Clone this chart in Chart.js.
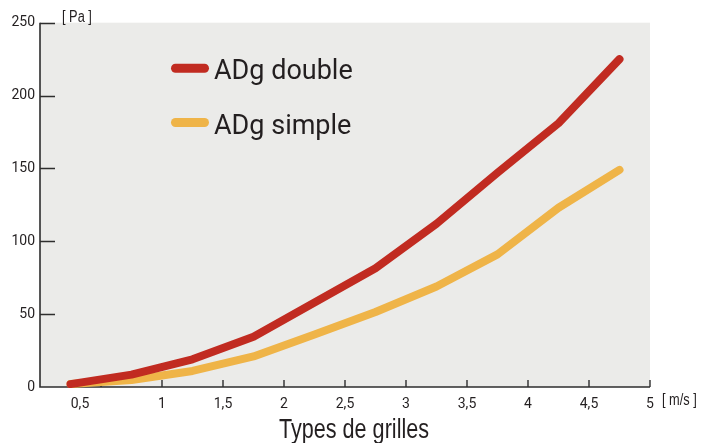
<!DOCTYPE html>
<html>
<head>
<meta charset="utf-8">
<script src="https://cdn.jsdelivr.net/npm/chart.js@4.4.1/dist/chart.umd.min.js"></script>
<style>
  html, body { margin: 0; padding: 0; background: #ffffff; }
  canvas { display: block; }
</style>
</head>
<body>
<canvas id="c" width="701" height="443"></canvas>
<script>
// Air speed through the grille [m/s]
const speeds = [0.25, 0.75, 1.25, 1.75, 2.25, 2.75, 3.25, 3.75, 4.25, 4.75];
// Pressure drop [Pa]
const adgDouble = [2, 8.5, 19, 34.5, 58, 81.5, 112, 147, 181, 225];
const adgSimple = [2, 4.8, 11, 21, 36, 51.5, 69, 91, 123, 149];
const seriesLabels = ['ADg double', 'ADg simple'];
const seriesColors = ['#c12b21', '#efb448'];
const xTicks = [0.5, 1, 1.5, 2, 2.5, 3, 3.5, 4, 4.5, 5];
const yTicks = [0, 50, 100, 150, 200, 250];
const xUnit = '[ m/s ]';
const yUnit = '[ Pa ]';
const xTitle = 'Types de grilles';

const AXIS = '#2e2e2e';
const TEXT = '#231f20';
const tickFont = '14px Roboto, "Open Sans", sans-serif';
const narrowFont = '"Liberation Sans", Arial, sans-serif';

// condensed text: squeeze the natural width horizontally
function narrowText(ctx, text, x, y, squeeze) {
  const w = ctx.measureText(text).width;
  ctx.fillText(text, x, y, w * squeeze);
}

const toPoints = vals => vals.map((v, i) => ({ x: speeds[i], y: v }));

const frame = {
  id: 'frame',
  beforeDatasetsDraw(chart) {
    const { ctx, chartArea: a, scales: { x, y } } = chart;
    ctx.save();
    // plot background
    ctx.fillStyle = '#ebebe9';
    ctx.fillRect(a.left, a.top, a.right - a.left, a.bottom - a.top);

    // axes
    ctx.strokeStyle = AXIS;
    ctx.lineWidth = 1.6;
    ctx.beginPath();
    ctx.moveTo(a.left, y.getPixelForValue(250));
    ctx.lineTo(a.left, a.bottom);
    ctx.lineTo(a.right, a.bottom);
    ctx.stroke();

    // inward tick marks
    ctx.lineWidth = 1.4;
    ctx.beginPath();
    yTicks.forEach(v => {
      if (v === 0) return;
      const py = Math.round(y.getPixelForValue(v)) + 0.5;
      ctx.moveTo(a.left, py);
      ctx.lineTo(a.left + 15, py);
    });
    xTicks.forEach(v => {
      const px = Math.round(x.getPixelForValue(v));
      ctx.moveTo(px, a.bottom);
      ctx.lineTo(px, a.bottom - 7);
    });
    ctx.stroke();

    // y labels
    ctx.fillStyle = TEXT;
    ctx.font = tickFont;
    ctx.textAlign = 'right';
    ctx.textBaseline = 'alphabetic';
    yTicks.forEach(v => {
      ctx.fillText(String(v), a.left - 5, y.getPixelForValue(v) + 3.5);
    });

    // x labels (first one sits left of its tick)
    ctx.textAlign = 'center';
    xTicks.forEach((v, i) => {
      const px = x.getPixelForValue(v) + (i === 0 ? -21 : 0);
      ctx.fillText(String(v).replace('.', ','), px, a.bottom + 20.5);
    });

    // units and title
    ctx.font = '16px ' + narrowFont;
    ctx.textAlign = 'left';
    narrowText(ctx, yUnit, a.left + 22, a.top - 1, 0.8);
    narrowText(ctx, xUnit, a.right + 12, a.bottom + 18, 0.8);
    ctx.font = '27px ' + narrowFont;
    ctx.textAlign = 'center';
    narrowText(ctx, xTitle, (a.left + a.right) / 2 + 9, a.bottom + 51, 0.8);
    ctx.restore();
  },
  afterDraw(chart) {
    // legend inside the plot
    const { ctx } = chart;
    ctx.save();
    const rows = [68.3, 122.5];
    chart.data.datasets.forEach((ds, i) => {
      const cy = rows[i];
      ctx.strokeStyle = ds.borderColor;
      ctx.lineWidth = 9;
      ctx.lineCap = 'round';
      ctx.beginPath();
      ctx.moveTo(175.5, cy);
      ctx.lineTo(204.5, cy);
      ctx.stroke();
      ctx.fillStyle = TEXT;
      ctx.font = '27px Roboto, "Open Sans", sans-serif';
      ctx.textAlign = 'left';
      ctx.textBaseline = 'alphabetic';
      ctx.fillText(ds.label, 214, cy + 11);
    });
    ctx.restore();
  }
};

new Chart(document.getElementById('c'), {
  type: 'line',
  data: {
    datasets: [
      { label: seriesLabels[0], data: toPoints(adgDouble), borderColor: seriesColors[0] },
      { label: seriesLabels[1], data: toPoints(adgSimple), borderColor: seriesColors[1] }
    ].map(d => Object.assign(d, {
      borderWidth: 8,
      borderCapStyle: 'round',
      borderJoinStyle: 'round',
      pointRadius: 0,
      tension: 0,
      fill: false,
      clip: false
    }))
  },
  options: {
    responsive: false,
    animation: false,
    layout: { padding: { left: 40, right: 51, top: 22.7, bottom: 56 } },
    scales: {
      x: { type: 'linear', min: 0, max: 5, display: false },
      y: { type: 'linear', min: 0, max: 250, display: false }
    },
    plugins: { legend: { display: false }, tooltip: { enabled: false } }
  },
  plugins: [frame]
});
</script>
</body>
</html>
